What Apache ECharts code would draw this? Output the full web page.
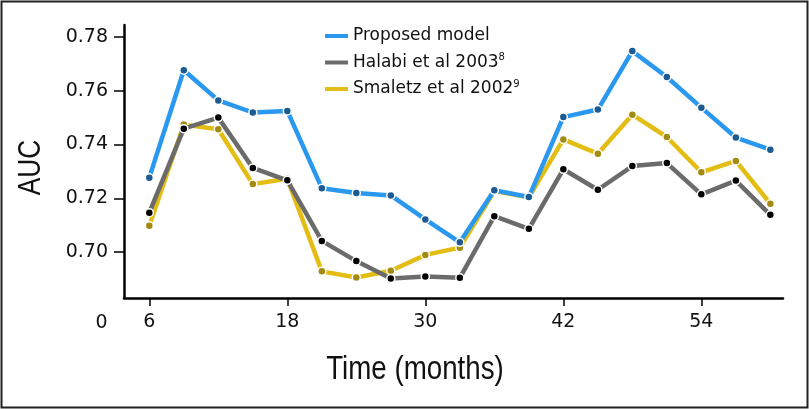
<!DOCTYPE html>
<html><head><meta charset="utf-8">
<script src="https://cdn.jsdelivr.net/npm/echarts@6/dist/echarts.min.js"></script>
<style>html,body{margin:0;padding:0;background:#fff}#c{width:809px;height:409px}</style>
</head><body><div id="c"></div>
<script>
const months = [6,9,12,15,18,21,24,27,30,33,36,39,42,45,48,51,54,57,60];
const proposed = [0.7277,0.7676,0.7564,0.7519,0.7525,0.7238,0.7220,0.7211,0.7122,0.7037,0.7230,0.7205,0.7502,0.7530,0.7747,0.7651,0.7537,0.7426,0.7381];
const halabi   = [0.7147,0.7459,0.7500,0.7313,0.7267,0.7042,0.6967,0.6902,0.6910,0.6905,0.7134,0.7087,0.7308,0.7232,0.7320,0.7331,0.7215,0.7266,0.7139];
const smaletz  = [0.7098,0.7474,0.7457,0.7253,0.7273,0.6929,0.6906,0.6931,0.6990,0.7017,0.7227,0.7204,0.7419,0.7366,0.7511,0.7428,0.7297,0.7339,0.7180];
const seriesNames = ['Proposed model','Halabi et al 2003','Smaletz et al 2002'];
const seriesSup = ['','8','9'];
const xTicks = [6,18,30,42,54];
const yTicks = [0.70,0.72,0.74,0.76,0.78];
const xTitle = 'Time (months)';
const yTitle = 'AUC';
const extraXLabel = '0';

const lineColors = ['#2a98ee','#6b6b6b','#e3bd14'];
const dotColors = ['#1b5a92','#000000','#a38a12'];
const font = '"DejaVu Sans", Arial, sans-serif';
const titleFont = '"Liberation Sans", Arial, sans-serif';
const datasets = [proposed, halabi, smaletz];

const chart = echarts.init(document.getElementById('c'), null, {renderer:'canvas'});
chart.setOption({
  animation:false,
  backgroundColor:'#fff',
  grid:{left:124, right:26, top:25, bottom:111},
  legend:{
    left:320, top:21, orient:'vertical', itemWidth:23, itemHeight:4, itemGap:6.5, icon:'rect',
    data: seriesNames.map((n,i)=>({name:n, itemStyle:{color:lineColors[i], borderWidth:0}})),
    formatter: function(name){ const i = seriesNames.indexOf(name); return seriesSup[i] ? name + '{s|' + seriesSup[i] + '}' : name; },
    textStyle:{fontFamily:font, fontSize:17, color:'#111', lineHeight:20,
      rich:{s:{fontSize:10, verticalAlign:'top', fontFamily:font, color:'#111', padding:[0,0,8,0]}}}
  },
  xAxis:{
    type:'value', min:3.8, max:61.1,
    axisLine:{lineStyle:{color:'#000', width:2.5}},
    axisTick:{customValues:xTicks, length:8, lineStyle:{color:'#000', width:1.5}},
    axisLabel:{customValues:xTicks, fontFamily:font, fontSize:19, color:'#111', margin:15},
    splitLine:{show:false}
  },
  yAxis:{
    type:'value', min:0.683, max:0.7844,
    axisLine:{show:true, lineStyle:{color:'#000', width:2.5}},
    axisTick:{show:true, customValues:yTicks, length:10, lineStyle:{color:'#000', width:1.5}},
    axisLabel:{customValues:yTicks, fontFamily:font, fontSize:19, color:'#111', margin:16, formatter:v=>v.toFixed(2)},
    splitLine:{show:false}
  },
  graphic:[
    {type:'text', x:101.5, y:323, style:{text:extraXLabel, x:0, y:0, align:'center', verticalAlign:'middle', fontFamily:font, fontSize:19, fill:'#111'}},
    {type:'text', x:415, y:370, scaleX:0.84, style:{text:xTitle, x:0, y:0, align:'center', verticalAlign:'middle', fontFamily:titleFont, fontSize:33, fill:'#111'}},
    {type:'text', x:31.5, y:167.5, rotation:Math.PI/2, scaleX:0.82, style:{text:yTitle, x:0, y:0, align:'center', verticalAlign:'middle', fontFamily:titleFont, fontSize:32, fill:'#111'}},
    {type:'rect', shape:{x:1.5, y:1.5, width:806, height:406}, style:{fill:'none', stroke:'#222', lineWidth:2}, silent:true, z:100}
  ],
  series: datasets.map((d,i)=>({
    name:seriesNames[i], type:'line',
    data: months.map((m,j)=>[m,d[j]]),
    symbol:'circle', symbolSize:8, showSymbol:true,
    lineStyle:{color:lineColors[i], width:4.5},
    itemStyle:{color:dotColors[i], borderColor:'#fff', borderWidth:1.5},
    z: 3 - i
  }))
});
</script></body></html>
